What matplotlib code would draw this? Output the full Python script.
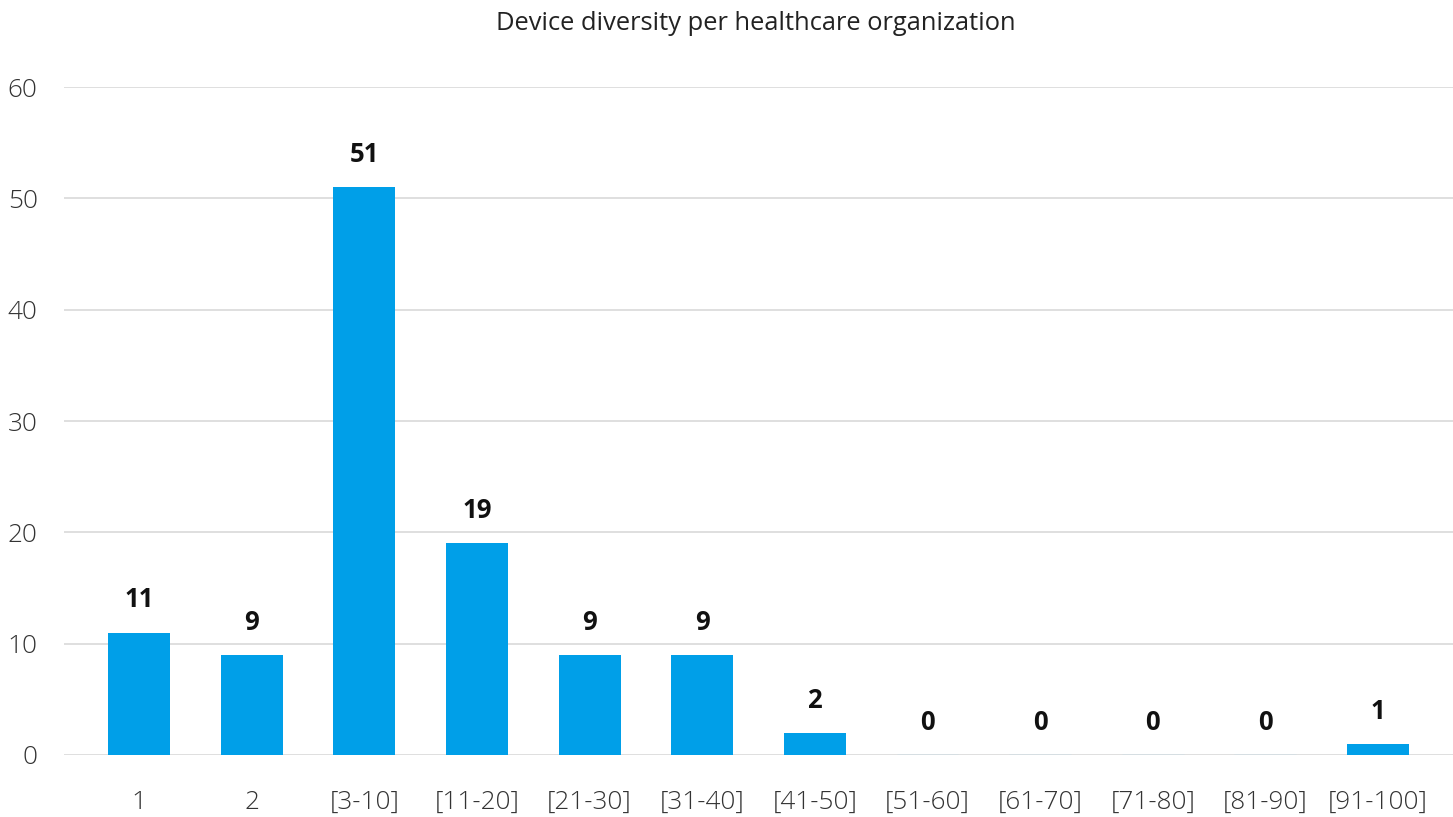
import matplotlib.pyplot as plt

plt.rcParams['font.family'] = ['Open Sans', 'DejaVu Sans']

# device counts per organization
categories = ['1', '2', '[3-10]', '[11-20]', '[21-30]', '[31-40]', '[41-50]',
              '[51-60]', '[61-70]', '[71-80]', '[81-90]', '[91-100]']
counts = [11, 9, 51, 19, 9, 9, 2, 0, 0, 0, 0, 1]
y_ticks = [0, 10, 20, 30, 40, 50, 60]

fig = plt.figure(figsize=(14.53, 8.17), dpi=100)
ax = fig.add_axes([0.0441, 0.0759, 0.9559, 0.8176])

x = range(len(categories))
bars = ax.bar(x, counts, width=0.55, color='#009FE8', linewidth=0, zorder=3)

# value labels above each bar; empty bins get a faint baseline stub
for rect, v in zip(bars, counts):
    if v == 0:
        rect.set_edgecolor('#b3dbef')
        rect.set_linewidth(1.0)
    ax.annotate(str(v), (rect.get_x() + rect.get_width() / 2, v),
                xytext=(0, 23.5), textcoords='offset points',
                ha='center', va='center', fontsize=18.5,
                fontweight='bold', color='#111111')

ax.set_xlim(-0.665, len(categories) - 1 + 0.665)
ax.set_ylim(0, 60)
ax.set_yticks(y_ticks)
ax.set_xticks(list(x))
ax.set_xticklabels(categories)

ax.grid(axis='y', color='#d9d9d9', linewidth=1.2, zorder=0)
ax.set_axisbelow(True)
for s in ax.spines.values():
    s.set_visible(False)
ax.tick_params(axis='both', length=0, labelsize=18.8, labelcolor='#333333')
ax.tick_params(axis='x', pad=25)
ax.tick_params(axis='y', pad=19)
for lbl in ax.get_xticklabels() + ax.get_yticklabels():
    lbl.set_fontweight('light')

# title centred over the plot area
fig.text(0.5205, 0.971, 'Device diversity per healthcare organization',
         ha='center', va='center', fontsize=18.4, color='#222222')

fig.savefig('out.png', dpi=100)
